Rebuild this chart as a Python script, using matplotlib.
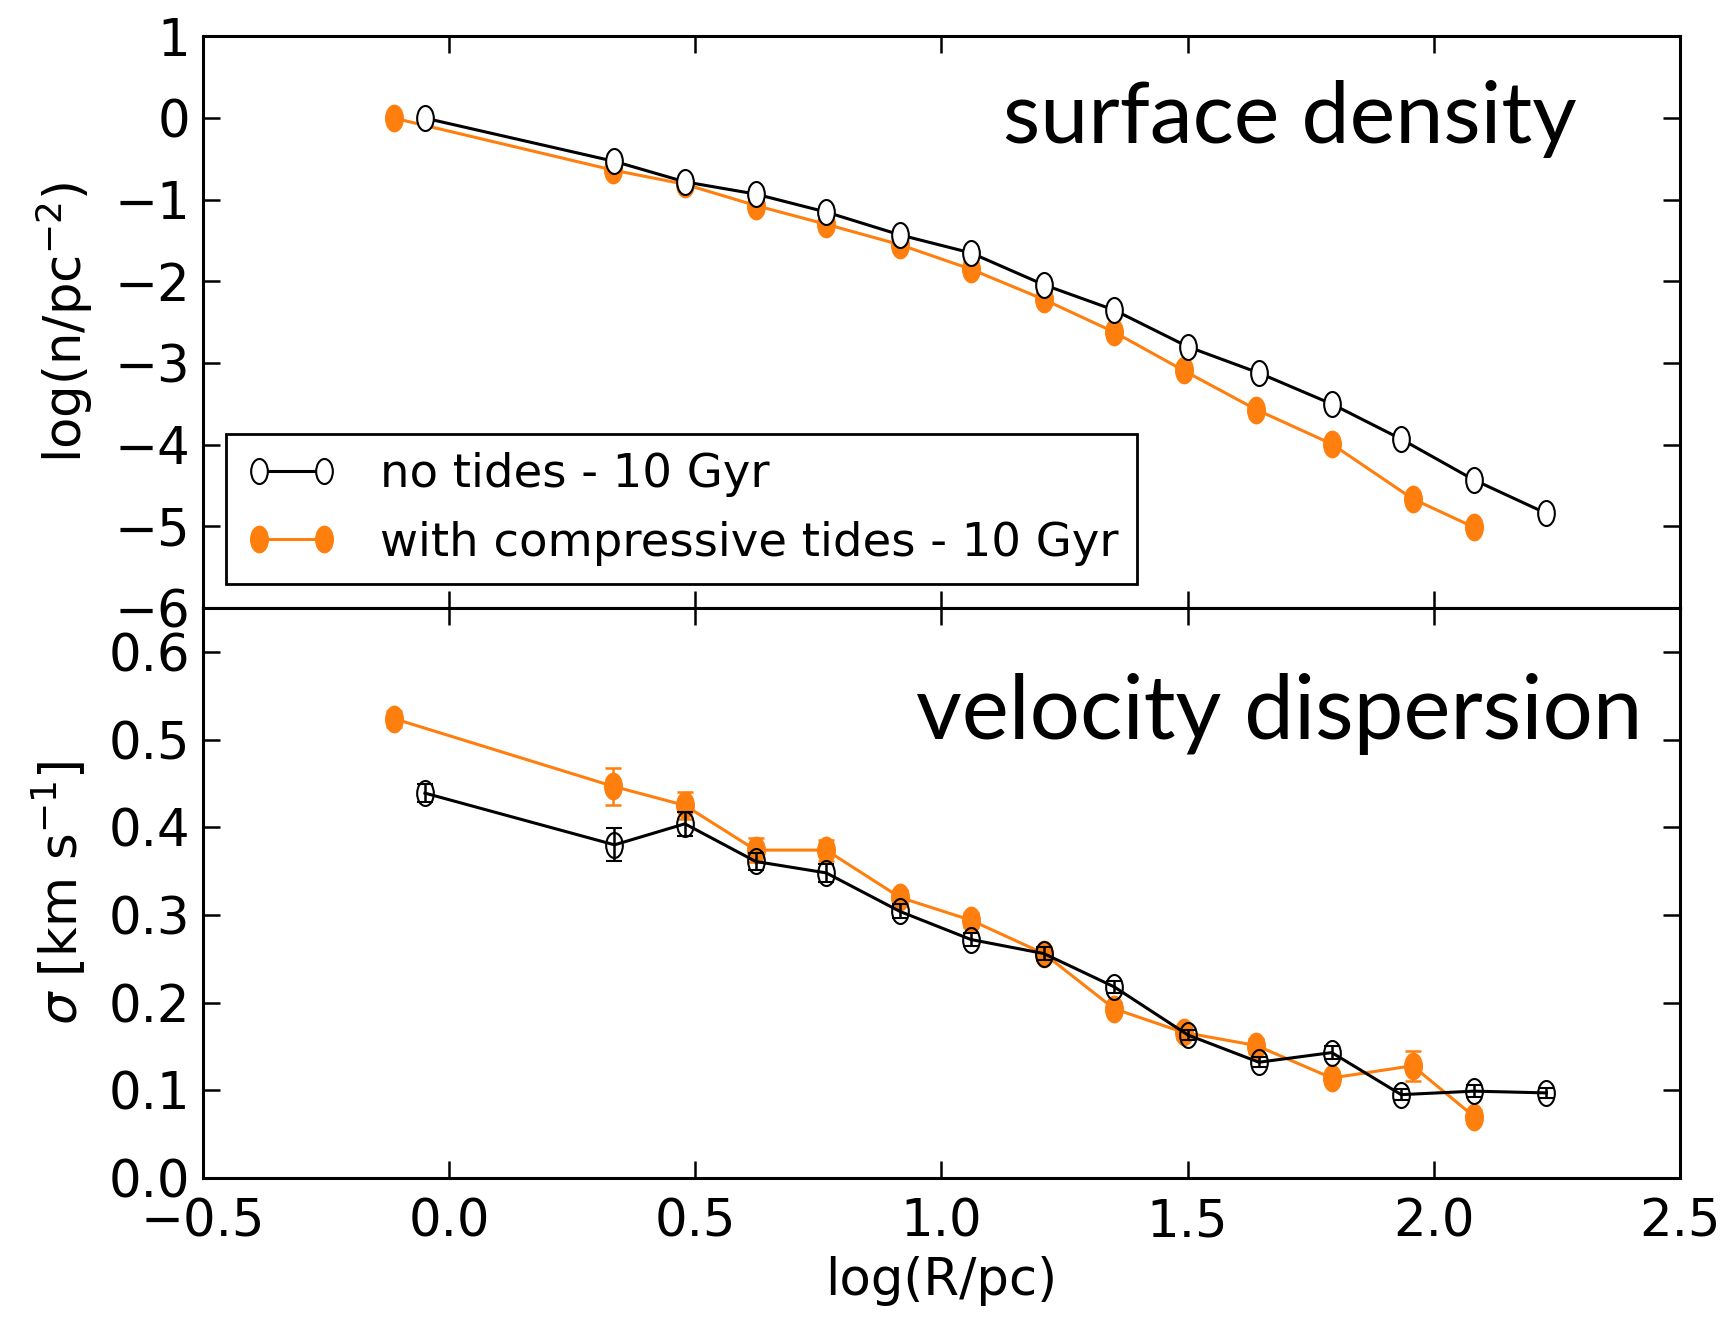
import numpy as np
import matplotlib
matplotlib.use("Agg")
import matplotlib.pyplot as plt
from matplotlib.path import Path
from matplotlib.transforms import Affine2D
from matplotlib.markers import MarkerStyle

# ---- data ----
x_notides = [-0.049, 0.336, 0.479, 0.623, 0.766, 0.916, 1.06, 1.208, 1.351, 1.501, 1.645, 1.793, 1.934, 2.082, 2.229]
dens_notides = [0.0, -0.53, -0.78, -0.93, -1.15, -1.43, -1.65, -2.04, -2.35, -2.80, -3.12, -3.50, -3.93, -4.43, -4.84]
sig_notides = [0.439, 0.380, 0.404, 0.361, 0.348, 0.304, 0.272, 0.256, 0.218, 0.163, 0.132, 0.143, 0.095, 0.099, 0.097]
err_notides = [0.010, 0.019, 0.014, 0.010, 0.010, 0.008, 0.007, 0.007, 0.007, 0.006, 0.006, 0.007, 0.006, 0.007, 0.006]

x_tides = [-0.112, 0.332, 0.479, 0.623, 0.766, 0.916, 1.06, 1.208, 1.351, 1.492, 1.640, 1.793, 1.957, 2.082]
dens_tides = [0.0, -0.635, -0.81, -1.07, -1.30, -1.55, -1.85, -2.22, -2.62, -3.09, -3.57, -3.99, -4.66, -5.01]
sig_tides = [0.524, 0.447, 0.425, 0.374, 0.374, 0.320, 0.294, 0.256, 0.193, 0.166, 0.151, 0.114, 0.128, 0.070]
err_tides = [0.009, 0.021, 0.015, 0.014, 0.012, 0.009, 0.008, 0.007, 0.007, 0.007, 0.008, 0.007, 0.017, 0.007]

xticks = [-0.5, 0.0, 0.5, 1.0, 1.5, 2.0, 2.5]
yticks_top = [-6, -5, -4, -3, -2, -1, 0, 1]
yticks_bot = [0.0, 0.1, 0.2, 0.3, 0.4, 0.5, 0.6]

label_a = "no tides - 10 Gyr"
label_b = "with compressive tides - 10 Gyr"
ORANGE = "#ff7f0e"

plt.rcParams['font.family'] = ['DejaVu Sans']
plt.rcParams['mathtext.fontset'] = 'dejavusans'

ell = MarkerStyle(Path.unit_circle().transformed(Affine2D().scale(1.0, 1.5)))

fig = plt.figure(figsize=(17.3, 13.25), dpi=100)
L, R = 0.1173, 0.971
ax1 = fig.add_axes([L, 0.541, R - L, 0.9725 - 0.541])
ax2 = fig.add_axes([L, 0.111, R - L, 0.541 - 0.111])

FS = 37
for ax in (ax1, ax2):
    for s in ax.spines.values():
        s.set_linewidth(2.2)
    ax.tick_params(direction='in', length=12, width=1.8, labelsize=FS,
                   top=True, right=True, pad=9)
    ax.set_xlim(-0.5, 2.5)
    ax.set_xticks(xticks)

# top panel
ax1.plot(x_notides, dens_notides, '-', color='black', lw=2.2, marker=ell,
         ms=18, mfc='white', mec='black', mew=1.5, label=label_a, zorder=3)
ax1.plot(x_tides, dens_tides, '-', color=ORANGE, lw=2.2, marker=ell,
         ms=19, mfc=ORANGE, mec=ORANGE, label=label_b, zorder=2)
ax1.set_ylim(-6, 1)
ax1.set_yticks(yticks_top)
ax1.set_yticklabels(['\u2212%d' % abs(v) if v < 0 else '%d' % v for v in yticks_top])
ax1.tick_params(labelbottom=False)
ax1.set_ylabel(r'log(n/pc$^{-2}$)', fontsize=FS, labelpad=14)
ax1.text(0.93, 0.855, 'surface density', transform=ax1.transAxes, ha='right',
         va='center', fontsize=62, family='Lato')
leg = ax1.legend(loc='lower left', bbox_to_anchor=(0.0156, 0.042), borderaxespad=0,
                 fontsize=33.5, numpoints=2, handlelength=2.0, handletextpad=0.9,
                 borderpad=0.4, fancybox=False, framealpha=1, edgecolor='black')
leg.get_frame().set_linewidth(2)

# bottom panel
ax2.errorbar(x_notides, sig_notides, yerr=err_notides, fmt='-', color='black',
             lw=2.2, marker=ell, ms=18, mfc='none', mec='black', mew=1.5,
             ecolor='black', elinewidth=1.8, capsize=6, capthick=1.8, zorder=3)
ax2.errorbar(x_tides, sig_tides, yerr=err_tides, fmt='-', color=ORANGE,
             lw=2.2, marker=ell, ms=19, mfc=ORANGE, mec=ORANGE,
             ecolor=ORANGE, elinewidth=1.8, capsize=6, capthick=1.8, zorder=2)
ax2.set_ylim(0.0, 0.65)
ax2.set_yticks(yticks_bot)
ax2.set_yticklabels(['%.1f' % v for v in yticks_bot])
ax2.set_xticklabels(['\u22120.5' if v < 0 else '%.1f' % v for v in xticks])
ax2.tick_params(axis='x', pad=14)
ax2.set_ylabel(r'$\sigma$ [km s$^{-1}$]', fontsize=FS, labelpad=14)
ax2.set_xlabel('log(R/pc)', fontsize=FS, labelpad=6)
ax2.text(0.975, 0.815, 'velocity dispersion', transform=ax2.transAxes, ha='right',
         va='center', fontsize=64, family='Lato')

fig.savefig('out.png', dpi=100)
